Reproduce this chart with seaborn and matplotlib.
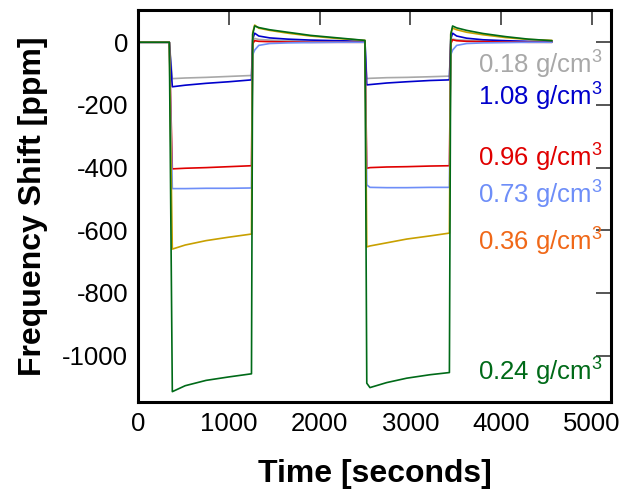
import matplotlib
matplotlib.use("Agg")
import matplotlib.pyplot as plt
import seaborn as sns
import pandas as pd

# Sample times (s) shared by every trace
time_s = [0, 345, 378, 520, 750, 1000, 1250, 1263, 1285, 1330, 1450, 1650, 1900, 2200,
          2500, 2520, 2555, 2740, 2960, 3215, 3430, 3445, 3465, 3510, 3620, 3800, 4050,
          4300, 4560]

# Frequency shift (ppm) for each density
shift_018 = [0, 0, -116, -114, -112, -109, -106, 5, 12, 9, 7, 5, 3, 2,
             1, -116, -115, -113, -112, -110, -108, 4, 10, 8, 6, 4, 2, 1, 0]
shift_108 = [0, 0, -142, -137, -131, -126, -120, 10, 29, 20, 14, 10, 7, 5,
             3, -136, -135, -130, -126, -122, -120, 10, 29, 20, 13, 8, 5, 3, 2]
shift_096 = [0, 0, -404, -402, -400, -397, -394, -5, 5, 3, 2, 1, 0, 0,
             0, -402, -400, -398, -397, -395, -394, -5, 8, 5, 3, 2, 1, 0, 0]
shift_073 = [0, 0, -467, -467, -466, -466, -465, -40, -25, -10, -4, -2, -1, 0,
             0, -455, -463, -464, -464, -463, -463, -40, -25, -10, -4, -2, -1, 0, 0]
shift_036 = [0, 0, -660, -647, -633, -622, -612, 30, 55, 45, 38, 29, 20, 12,
             6, -653, -650, -640, -628, -618, -609, 28, 45, 40, 32, 24, 15, 9, 6]
shift_024 = [0, 0, -1115, -1096, -1079, -1068, -1058, 25, 52, 47, 40, 32, 22, 14,
             6, -1088, -1102, -1086, -1072, -1061, -1054, 25, 52, 46, 38, 28, 18, 10, 5]

densities = ["0.18", "1.08", "0.96", "0.73", "0.36", "0.24"]
line_colors = ["#a8a8a8", "#0000cc", "#e00000", "#6e8ef8", "#c8a000", "#006a18"]
label_colors = ["#a8a8a8", "#0000cc", "#e00000", "#6e8ef8", "#f06818", "#006a18"]
label_y = [-72, -175, -369, -487, -637, -1051]

series = [shift_018, shift_108, shift_096, shift_073, shift_036, shift_024]
df = pd.concat(
    [pd.DataFrame({"time": time_s, "shift": s, "density": d})
     for s, d in zip(series, densities)],
    ignore_index=True,
)

sns.set_style("white")
plt.rcParams["font.family"] = ["Liberation Sans", "DejaVu Sans"]
plt.rcParams["mathtext.fontset"] = "custom"
plt.rcParams["mathtext.rm"] = "Liberation Sans"
plt.rcParams["mathtext.it"] = "Liberation Sans:italic"
plt.rcParams["axes.unicode_minus"] = False

fig = plt.figure(figsize=(6.21, 4.90), dpi=100)
ax = fig.add_axes([138 / 621, 1 - 402 / 490, (611 - 138) / 621, (402 - 10) / 490])

sns.lineplot(data=df, x="time", y="shift", hue="density", hue_order=densities,
             palette=line_colors, linewidth=1.2, legend=False, ax=ax,
             estimator=None, sort=False)

for d, c, y in zip(densities, label_colors, label_y):
    ax.text(5120, y, d + r" g/cm$^3$", color=c, fontsize=18.5,
            ha="right", va="center")

ax.set_xlim(0, 5210)
ax.set_ylim(-1148, 103)
ax.set_xticks([0, 1000, 2000, 3000, 4000, 5000])
ax.set_yticks([0, -200, -400, -600, -800, -1000])
ax.tick_params(direction="in", length=11, width=1.4, color="#555555",
               labelsize=18.5, pad=7, top=True, right=True, labelcolor="black")
for sp in ax.spines.values():
    sp.set_visible(True)
    sp.set_color("black")
    sp.set_linewidth(2.2)

ax.set_xlabel("Time [seconds]", fontsize=23, fontweight="bold", labelpad=17,
              color="black")
ax.set_ylabel("Frequency Shift [ppm]", fontsize=23, fontweight="bold", labelpad=10,
              color="black")

fig.savefig("out.png", dpi=100)
